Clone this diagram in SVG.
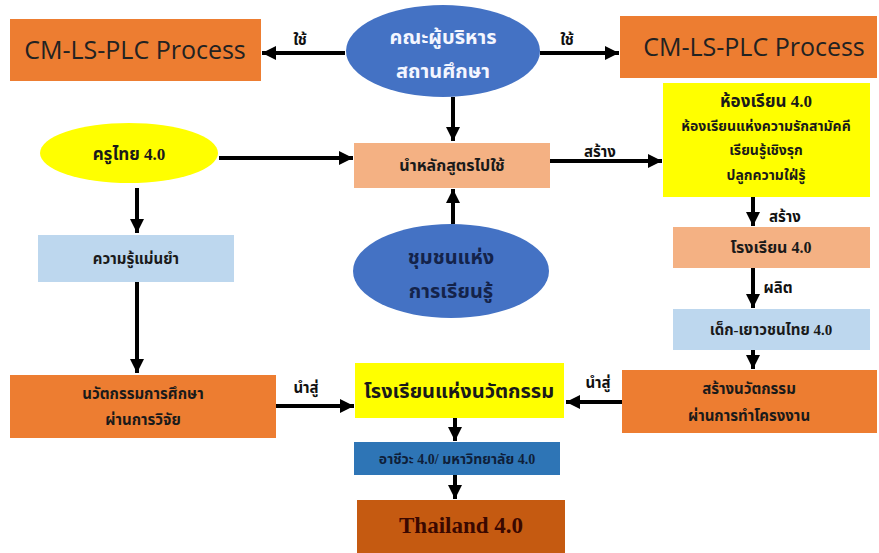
<svg xmlns="http://www.w3.org/2000/svg" width="879" height="553" viewBox="0 0 879 553">
<style>
.th{font-family:"Liberation Serif","Noto Sans Thai","Noto Serif Thai","DejaVu Sans",serif;font-weight:bold;text-anchor:middle;fill:#1a1a1a}
.cm{font-family:"Open Sans","Noto Sans","Liberation Sans",sans-serif;font-size:25px;text-anchor:middle;fill:#222}
.ln{stroke:#000;stroke-width:4;fill:none;marker-end:url(#ah)}
.lbl{font-family:"Liberation Serif","Noto Sans Thai","DejaVu Sans",serif;font-weight:bold;font-size:15px;text-anchor:middle;fill:#111}
</style>
<defs>
<marker id="ah" markerUnits="userSpaceOnUse" markerWidth="16" markerHeight="16" refX="14" refY="8" orient="auto">
<path d="M0,1 L14,8 L0,15 Z" fill="#000"/>
</marker>
</defs>
<rect width="879" height="553" fill="#fff"/>

<g id="cm-left"><rect x="10" y="19" width="251" height="62" fill="#ED7D31"/><text class="cm" x="135" y="59">CM-LS-PLC Process</text></g>
<g id="cm-right"><rect x="620" y="16" width="257" height="62" fill="#ED7D31"/><text class="cm" x="754" y="56">CM-LS-PLC Process</text></g>
<g id="admin"><ellipse cx="443" cy="51" rx="97" ry="46" fill="#4472C4"/><text class="th" x="443" y="44" font-size="20" style="fill:#f4f6ff">คณะผู้บริหาร</text><text class="th" x="443" y="78" font-size="20" style="fill:#f4f6ff">สถานศึกษา</text></g>
<g id="teacher"><ellipse cx="129" cy="153" rx="89" ry="30" fill="#FFFF00"/><text class="th" x="129" y="160" font-size="17">ครูไทย 4.0</text></g>
<g id="curriculum"><rect x="354" y="143" width="196" height="45" fill="#F4B183"/><text class="th" x="452" y="171" font-size="16">นำหลักสูตรไปใช้</text></g>
<g id="classroom"><rect x="663" y="83" width="207" height="114" fill="#FFFF00"/><text class="th" x="766" y="107" font-size="17">ห้องเรียน 4.0</text><text class="th" x="766" y="131" font-size="14">ห้องเรียนแห่งความรักสามัคคี</text><text class="th" x="766" y="155" font-size="14">เรียนรู้เชิงรุก</text><text class="th" x="766" y="180" font-size="14">ปลูกความใฝ่รู้</text></g>
<g id="knowledge"><rect x="38" y="235" width="196" height="47" fill="#BDD7EE"/><text class="th" x="136" y="264" font-size="15">ความรู้แม่นยำ</text></g>
<g id="community"><ellipse cx="451" cy="271" rx="98" ry="47" fill="#4472C4"/><text class="th" x="451" y="264" font-size="20" style="fill:#14234a">ชุมชนแห่ง</text><text class="th" x="451" y="298" font-size="20" style="fill:#14234a">การเรียนรู้</text></g>
<g id="school40"><rect x="673" y="227" width="197" height="41" fill="#F4B183"/><text class="th" x="771" y="253" font-size="16">โรงเรียน 4.0</text></g>
<g id="youth"><rect x="673" y="309" width="197" height="41" fill="#BDD7EE"/><text class="th" x="771" y="335" font-size="15">เด็ก-เยาวชนไทย 4.0</text></g>
<g id="project"><rect x="622" y="370" width="255" height="63" fill="#ED7D31"/><text class="th" x="749" y="394" font-size="15">สร้างนวัตกรรม</text><text class="th" x="749" y="421" font-size="15">ผ่านการทำโครงงาน</text></g>
<g id="research"><rect x="10" y="375" width="266" height="63" fill="#ED7D31"/><text class="th" x="143" y="399" font-size="15">นวัตกรรมการศึกษา</text><text class="th" x="143" y="425" font-size="15">ผ่านการวิจัย</text></g>
<g id="innovation-school"><rect x="355" y="363" width="209" height="55" fill="#FFFF00"/><text class="th" x="459" y="398" font-size="20">โรงเรียนแห่งนวัตกรรม</text></g>
<g id="vocational"><rect x="354" y="442" width="206" height="33" fill="#2E75B6"/><text class="th" x="457" y="464" font-size="14" style="fill:#0f1f3a">อาชีวะ 4.0/ มหาวิทยาลัย 4.0</text></g>
<g id="thailand"><rect x="357" y="500" width="208" height="53" fill="#C55A11"/><text class="th" x="461" y="533" font-size="23" style="fill:#3a0800">Thailand 4.0</text></g>

<g id="connectors">
<line class="ln" x1="345" y1="53" x2="262" y2="53"/>
<line class="ln" x1="540" y1="53" x2="619" y2="53"/>
<line class="ln" x1="453" y1="97" x2="453" y2="141"/>
<line class="ln" x1="219" y1="158" x2="353" y2="158"/>
<line class="ln" x1="453" y1="224" x2="453" y2="189"/>
<line class="ln" x1="550" y1="161" x2="662" y2="161"/>
<line class="ln" x1="137" y1="188" x2="137" y2="233"/>
<line class="ln" x1="137" y1="282" x2="137" y2="373"/>
<line class="ln" x1="276" y1="406" x2="354" y2="406"/>
<line class="ln" x1="753" y1="197" x2="753" y2="226"/>
<line class="ln" x1="753" y1="268" x2="753" y2="308"/>
<line class="ln" x1="753" y1="350" x2="753" y2="369"/>
<line class="ln" x1="622" y1="402" x2="566" y2="402"/>
<line class="ln" x1="455" y1="418" x2="455" y2="441"/>
<line class="ln" x1="455" y1="475" x2="455" y2="499"/>
<text class="lbl" x="300" y="45">ใช้</text>
<text class="lbl" x="567" y="45">ใช้</text>
<text class="lbl" x="600" y="157">สร้าง</text>
<text class="lbl" x="306" y="393">นำสู่</text>
<text class="lbl" x="598" y="388">นำสู่</text>
<text class="lbl" x="785" y="222">สร้าง</text>
<text class="lbl" x="778" y="293">ผลิต</text>
</g>
</svg>
